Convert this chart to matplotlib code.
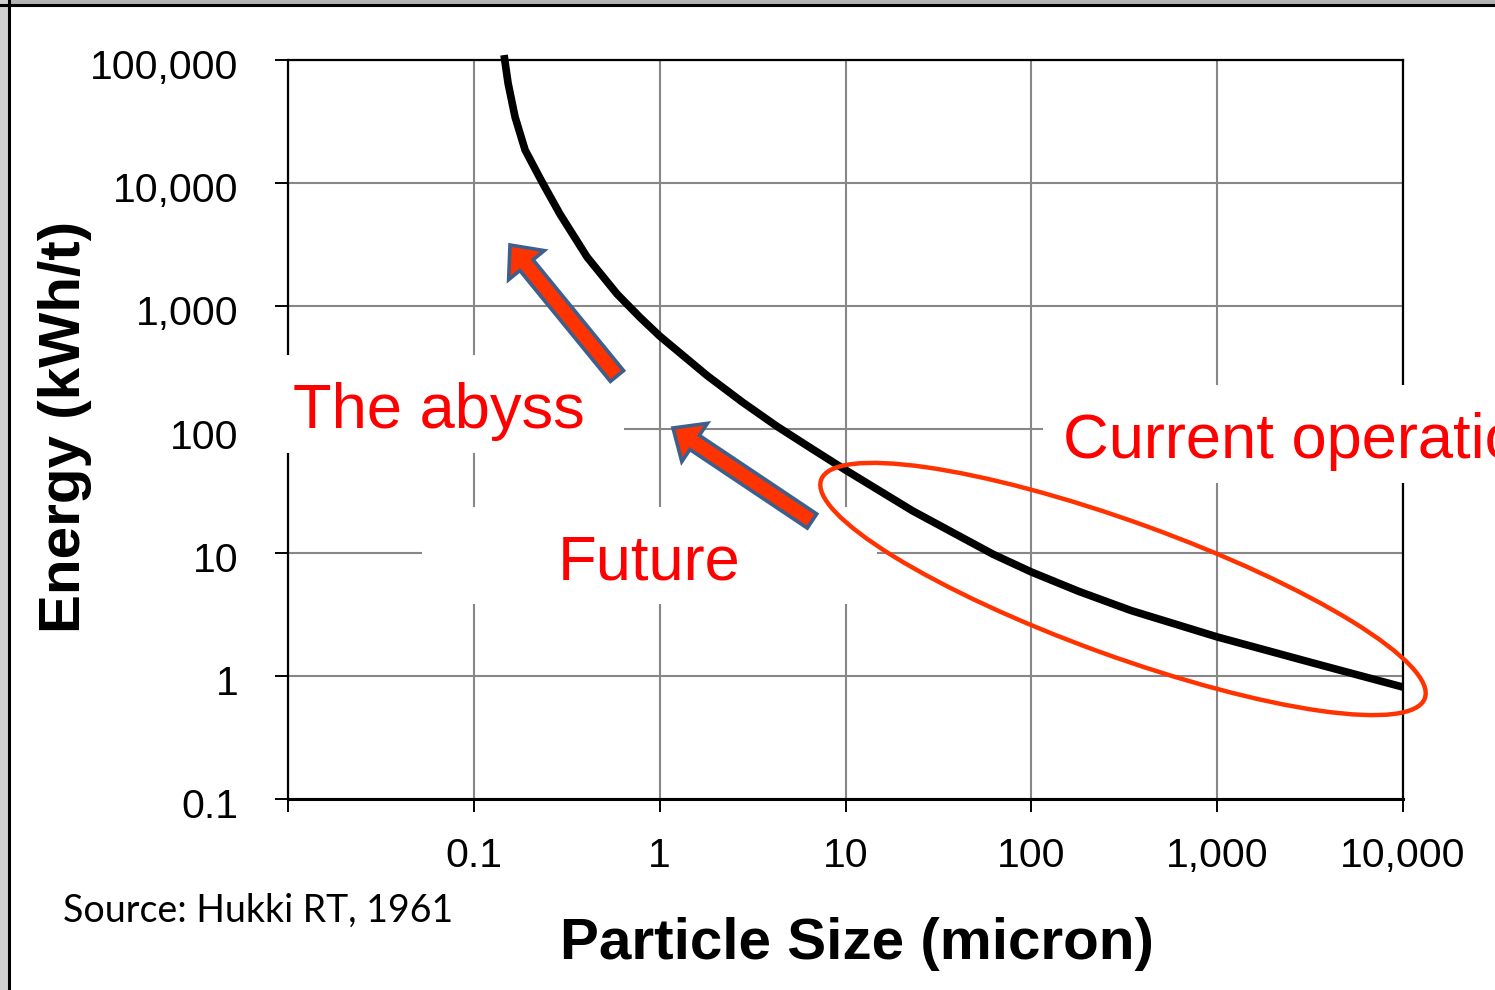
import numpy as np
import matplotlib
matplotlib.use("Agg")
import matplotlib.pyplot as plt
import matplotlib.transforms as mtransforms
from matplotlib.patches import Rectangle, Ellipse, FancyArrow

# === Data ===
particle_size = [0.1454, 0.1528, 0.1667, 0.1887, 0.233, 0.291, 0.407, 0.59,
                 0.784, 1, 1.8, 2.8, 4.28, 6.6, 10, 22.9, 62.3, 100, 180,
                 344, 1000, 3290, 10000]
energy = [109700, 65000, 34400, 18600, 10200, 5600, 2510, 1259,
          813, 574, 274, 166, 106, 69.7, 46.9, 21.9, 9.7, 6.97, 4.85,
          3.39, 2.07, 1.27, 0.81]

x_ticks = [0.01, 0.1, 1, 10, 100, 1000, 10000]
x_tick_labels = ['', '0.1', '1', '10', '100', '1,000', '10,000']
y_ticks = [0.1, 1, 10, 100, 1000, 10000, 100000]
y_tick_labels = ['0.1', '1', '10', '100', '1,000', '10,000', '100,000']

W, H = 1495, 990
RED = '#ff0000'
ORANGE = '#ff3300'
EDGE = '#3d5f8c'
GRID = '#878787'

plt.rcParams['font.family'] = ['Liberation Sans', 'DejaVu Sans']

fig = plt.figure(figsize=(W / 100, H / 100), dpi=100)
fig.patch.set_facecolor('white')

# main axes, placed in pixel terms
ax = fig.add_axes([288 / W, 1 - 799 / H, 1115 / W, 739 / H])
ax.set_xscale('log')
ax.set_yscale('log')
ax.set_xlim(0.01, 10000)
ax.set_ylim(0.1, 100000)
ax.plot(particle_size, energy, color='black', lw=5.5, clip_on=False,
        solid_capstyle='butt', solid_joinstyle='round', zorder=4)

ax.set_xticks(x_ticks)
ax.set_xticklabels(x_tick_labels)
ax.set_yticks(y_ticks)
ax.set_yticklabels(y_tick_labels)
ax.minorticks_off()
ax.tick_params(axis='both', direction='out', length=9.5, width=1.4,
               color='black', labelsize=29.5)
ax.tick_params(axis='x', pad=18)
ax.tick_params(axis='y', pad=26)
ax.grid(True, color=GRID, lw=1.5)
for side in ['left', 'right', 'top', 'bottom']:
    ax.spines[side].set_color('black')
    ax.spines[side].set_linewidth(1.6)
ax.spines['bottom'].set_linewidth(2.2)

# y labels sit a little below their grid lines in the original
shift = mtransforms.ScaledTranslation(0, -3 / 72, fig.dpi_scale_trans)
for lbl in ax.get_yticklabels():
    lbl.set_transform(lbl.get_transform() + shift)

fig.text(65 / W, 1 - 427 / H, 'Energy (kWh/t)', rotation=90, ha='center',
         va='center', fontsize=42, fontweight='bold')
fig.text(857 / W, 1 - 944 / H, 'Particle Size (micron)', ha='center',
         va='center', fontsize=42, fontweight='bold')

# === Overlay in pixel coordinates for the slide annotations ===
ov = fig.add_axes([0, 0, 1, 1], zorder=5)
ov.set_xlim(0, W)
ov.set_ylim(H, 0)
ov.axis('off')
ov.patch.set_alpha(0)

# white text boxes that hide grid lines behind them
for (bx, by, bw, bh) in [(250, 355, 374, 98), (422, 507, 455, 97),
                         (1043, 385, 460, 98)]:
    ov.add_patch(Rectangle((bx, by), bw, bh, facecolor='white',
                           edgecolor='none', zorder=1))

ov.text(293, 428, 'The abyss', color=RED, fontsize=45.5, va='baseline',
        ha='left', zorder=3)
ov.text(558, 579, 'Future', color=RED, fontsize=45.5, va='baseline',
        ha='left', zorder=3)
ov.text(1063, 458, 'Current operation', color=RED, fontsize=45.5,
        va='baseline', ha='left', zorder=3)
ov.text(63, 922, 'Source: Hukki RT, 1961', color='black', fontsize=27,
        va='baseline', ha='left', family=['Lato', 'DejaVu Sans'], zorder=3)

# block arrows
for (tx, ty, hx, hy) in [(617, 376, 510, 245), (812, 521, 673, 428)]:
    ov.add_patch(FancyArrow(tx, ty, hx - tx, hy - ty, width=17,
                            head_width=46, head_length=26,
                            length_includes_head=True, facecolor=ORANGE,
                            edgecolor=EDGE, lw=2.6, zorder=4))

ov.add_patch(Ellipse((1123, 589), width=642, height=134, angle=19.9,
                     facecolor='none', edgecolor=ORANGE, lw=3.2, zorder=4))

# slide frame
ov.add_patch(Rectangle((0, 0), W, 3.5, facecolor='#b3b3b3', edgecolor='none',
                       zorder=6, clip_on=False))
ov.add_patch(Rectangle((0, 0), 7.5, H, facecolor='#d0d0d0', edgecolor='none',
                       zorder=6, clip_on=False))
ov.plot([0, W], [4.5, 4.5], color='black', lw=2.2, zorder=7, clip_on=False)
ov.plot([8.5, 8.5], [0, H], color='black', lw=2.2, zorder=7, clip_on=False)

fig.savefig('out.png', dpi=100, facecolor='white')
